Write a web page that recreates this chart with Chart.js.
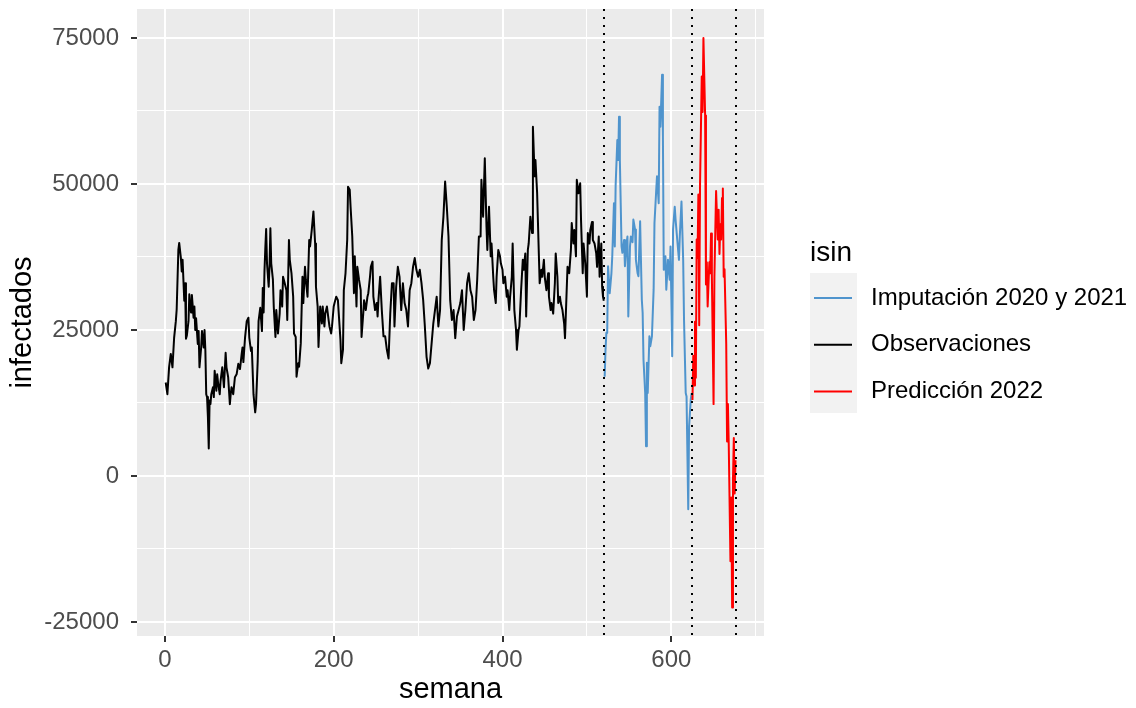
<!DOCTYPE html>
<html>
<head>
<meta charset="utf-8">
<script src="https://cdn.jsdelivr.net/npm/chart.js@4.4.1/dist/chart.umd.min.js"></script>
<style>
  html, body { margin: 0; padding: 0; background: #ffffff; }
  #wrap { width: 1136px; height: 708px; }
</style>
</head>
<body>
<div id="wrap"><canvas id="chart" width="1136" height="708"></canvas></div>
<script>
// semanas 1-520: observaciones
const obsWeeks = [
  1, 2, 3, 5, 7, 9, 11, 13, 14, 16, 17, 19, 20, 21, 23, 24, 25, 26, 28, 29,
  31, 32, 34, 35, 36, 37, 39, 40, 41, 43, 44, 46, 47, 48, 49, 50, 51, 52, 53, 54,
  55, 57, 58, 59, 61, 62, 63, 65, 66, 68, 70, 72, 73, 75, 77, 78, 79, 81, 83, 85,
  87, 89, 91, 92, 93, 95, 97, 99, 100, 102, 103, 105, 107, 108, 110, 111, 113, 115, 116, 117,
  118, 119, 120, 121, 122, 123, 124, 125, 126, 128, 129, 131, 132, 134, 136, 137, 139, 140, 142, 144,
  145, 147, 148, 150, 152, 153, 155, 156, 158, 159, 161, 163, 164, 166, 167, 169, 171, 172, 174, 176,
  178, 179, 181, 182, 184, 186, 187, 189, 190, 192, 194, 195, 197, 198, 200, 201, 203, 205, 206, 208,
  209, 211, 212, 214, 216, 217, 219, 220, 222, 224, 225, 227, 228, 230, 232, 233, 235, 236, 238, 240,
  241, 243, 244, 246, 247, 249, 251, 252, 253, 255, 257, 259, 261, 263, 265, 267, 269, 271, 272, 274,
  276, 278, 280, 282, 284, 286, 288, 290, 292, 294, 296, 298, 300, 302, 304, 306, 308, 310, 312, 314,
  316, 318, 320, 322, 324, 326, 328, 330, 332, 334, 336, 338, 340, 342, 344, 346, 348, 350, 352, 354,
  356, 358, 360, 362, 364, 366, 368, 370, 372, 374, 375, 377, 379, 381, 382, 384, 386, 387, 389, 390,
  392, 393, 395, 397, 398, 400, 401, 403, 405, 406, 408, 409, 411, 412, 414, 416, 417, 419, 420, 422,
  424, 425, 427, 428, 430, 431, 433, 435, 436, 438, 439, 441, 443, 444, 446, 447, 449, 450, 452, 454,
  455, 457, 458, 460, 462, 463, 465, 466, 468, 469, 471, 473, 474, 476, 477, 479, 481, 482, 484, 485,
  487, 488, 490, 492, 493, 495, 496, 498, 500, 501, 503, 504, 506, 507, 509, 511, 512, 514, 515, 517,
  518, 519, 520
];
const obsValues = [
  16000, 15000, 14000, 18600, 20900, 18600, 23700, 26500, 28500, 38700, 39900, 37300, 35000, 37000, 30000, 33000, 23500, 24000, 26500, 31100,
  28000, 31000, 27100, 29000, 25000, 27000, 22600, 24800, 18600, 22000, 24800, 22000, 25000, 21400, 14000, 13500, 10100, 4700, 12900, 12300,
  14000, 15200, 13500, 18000, 14600, 17400, 16000, 14000, 16300, 18600, 15200, 21100, 18600, 16900, 12300, 14000, 15200, 14000, 16900, 17400,
  19200, 18300, 20900, 22000, 19500, 23700, 26500, 27100, 23700, 21400, 22000, 14000, 10900, 12300, 19700, 26500, 28800, 24800, 32200, 28000,
  35000, 39000, 42300, 36400, 36400, 32400, 36000, 42400, 36400, 33600, 29000, 23800, 28400, 24400, 27800, 31800, 29000, 34100, 33000, 31800,
  26700, 40400, 37000, 34700, 30700, 24400, 23800, 17000, 19300, 18700, 22700, 34100, 29600, 35800, 33600, 30700, 40400, 39300, 42100, 45300,
  39800, 32400, 29000, 22100, 29000, 26100, 29000, 25600, 27800, 29000, 26700, 25600, 24400, 25600, 29000, 29600, 30700, 30100, 27800, 23300,
  19300, 21600, 31800, 34700, 40400, 49500, 49000, 46100, 41000, 31300, 37600, 29000, 35800, 33600, 31800, 23800, 27800, 30100, 28400, 30700,
  31300, 34100, 35800, 36700, 30700, 28400, 29600, 27300, 30100, 34100, 28400, 23900, 23900, 21600, 20100, 27800, 33000, 33000, 25600, 32400,
  35800, 34100, 28400, 33000, 29600, 28400, 25600, 31800, 33000, 35800, 37300, 35300, 34100, 35300, 33000, 30100, 25600, 20400, 18400, 19300,
  22700, 26100, 28400, 30700, 25600, 28400, 40400, 44400, 50400, 46100, 41000, 30100, 26700, 28400, 23600, 27300, 28400, 29600, 31800, 25000,
  28400, 33000, 34700, 31800, 30700, 26700, 28400, 33600, 41000, 41000, 50700, 44400, 54400, 42700, 38700, 46100, 37600, 39800, 34100, 31800,
  29600, 34100, 38700, 37600, 36400, 35300, 33000, 34100, 30700, 31800, 28400, 30700, 34100, 39800, 28400, 25000, 21600, 25000, 25600, 31800,
  37000, 35300, 38100, 27300, 38700, 39800, 44400, 41600, 59800, 51300, 54100, 48400, 38100, 33000, 35300, 34100, 37000, 34100, 31800, 34700,
  30700, 28400, 29600, 27800, 33000, 38100, 34100, 29600, 30700, 29600, 28400, 26100, 23600, 31800, 35800, 34700, 38700, 43300, 39800, 42100,
  37600, 50700, 48400, 50100, 43800, 34700, 39800, 36400, 30700, 41600, 39800, 42100, 43500, 40400, 39800, 38100, 35800, 41000, 34100, 39800,
  32400, 30700, 30000
];

// semanas 521-624: imputación 2020 y 2021
const impWeeks = [
  521, 522, 523, 524, 525, 527, 529, 530, 532, 533, 534, 536, 537, 538, 539, 541, 542, 544, 545, 547,
  548, 549, 551, 552, 554, 555, 557, 558, 560, 561, 563, 565, 566, 567, 569, 570, 571, 572, 574, 575,
  577, 579, 580, 582, 583, 585, 586, 587, 589, 590, 591, 593, 594, 596, 598, 599, 601, 602, 604, 605,
  607, 609, 610, 612, 614, 615, 617, 618, 620, 621, 623, 624
];
const impValues = [
  17000, 21600, 24500, 24500, 35900, 31300, 34700, 37600, 46700, 39300, 49800, 57500, 54100, 61500, 54100, 39300, 38200, 40400, 35900, 39900,
  41000, 27300, 39300, 41000, 40000, 43900, 42200, 37000, 34700, 34200, 43600, 30200, 27900, 19900, 14200, 5100, 19400, 14200, 23900, 22200,
  23900, 31900, 43300, 48700, 51300, 46700, 63200, 59800, 68700, 58100, 35300, 37600, 31900, 37000, 33600, 39300, 20500, 42200, 46100, 43900,
  40400, 37000, 41000, 47000, 37000, 26800, 14200, 13600, -5700, 8500, 13100, 14200
];

// semanas 625-676: predicción 2022
const predWeeks = [
  625, 626, 627, 628, 629, 630, 631, 632, 633, 634, 636, 637, 638, 640, 641, 642, 643, 645, 646, 647,
  648, 650, 651, 652, 653, 655, 656, 657, 658, 659, 660, 661, 662, 663, 665, 666, 667, 668, 670, 671,
  672, 673, 674, 675, 676
];
const predValues = [
  13000, 20600, 15500, 26400, 16800, 40500, 37300, 48200, 25800, 50100, 68400, 62300, 75000, 61700, 32800, 36600, 29000, 36600, 34700, 41500,
  34100, 12300, 34100, 41500, 48800, 40500, 45600, 38000, 43100, 40500, 47600, 49200, 34100, 35400, 22600, 5900, 12300, 5300, -14600, -3700,
  -22500, -500, 6500, -3000, 2700
];

const seriesNames = ["Imputación 2020 y 2021", "Observaciones", "Predicción 2022"];
const seriesColors = ["#4F94CD", "#000000", "#FF0000"];

const xMajor = [0, 200, 400, 600];
const xMinor = [100, 300, 500, 700];
const yMajor = [-25000, 0, 25000, 50000, 75000];
const yMinor = [-12500, 12500, 37500, 62500];
const periodBreaks = [520, 624, 676];

const FONT = "'Liberation Sans', Arial, sans-serif";

function toPoints(xs, ys) {
  return xs.map((x, i) => ({ x: x, y: ys[i] }));
}

const panelBg = {
  id: "panelBg",
  beforeDraw(chart) {
    const { ctx, chartArea: a } = chart;
    ctx.save();
    ctx.fillStyle = "#ffffff";
    ctx.fillRect(0, 0, chart.width, chart.height);
    ctx.fillStyle = "#EBEBEB";
    ctx.fillRect(a.left, a.top, a.right - a.left, a.bottom - a.top);
    ctx.restore();
  }
};

const breakLines = {
  id: "breakLines",
  afterDatasetsDraw(chart) {
    const { ctx, chartArea: a, scales } = chart;
    ctx.save();
    ctx.strokeStyle = "#000000";
    ctx.lineWidth = 2;
    ctx.setLineDash([2, 6]);
    periodBreaks.forEach(w => {
      const px = Math.round(scales.x.getPixelForValue(w));
      ctx.beginPath();
      ctx.moveTo(px, a.top);
      ctx.lineTo(px, a.bottom);
      ctx.stroke();
    });
    ctx.restore();
  }
};

// leyenda tipo ggplot a la derecha
const ggLegend = {
  id: "ggLegend",
  afterDraw(chart) {
    const ctx = chart.ctx;
    const ds = chart.data.datasets;
    ctx.save();
    ctx.fillStyle = "#000000";
    ctx.font = "28px " + FONT;
    ctx.textBaseline = "middle";
    ctx.textAlign = "left";
    ctx.fillText("isin", 810, 253);
    ctx.fillStyle = "#F2F2F2";
    ctx.fillRect(810, 273, 47, 140);
    ctx.font = "24px " + FONT;
    ds.forEach((d, i) => {
      const y = 298 + i * 46.7;
      ctx.strokeStyle = d.borderColor;
      ctx.lineWidth = 2;
      ctx.beginPath();
      ctx.moveTo(814, y);
      ctx.lineTo(852, y);
      ctx.stroke();
      ctx.fillStyle = "#000000";
      ctx.fillText(d.label, 871, y);
    });
    ctx.restore();
  }
};

const ctx = document.getElementById("chart").getContext("2d");

new Chart(ctx, {
  type: "line",
  data: {
    datasets: [
      { label: seriesNames[0], data: toPoints(impWeeks, impValues), borderColor: seriesColors[0], order: 3 },
      { label: seriesNames[1], data: toPoints(obsWeeks, obsValues), borderColor: seriesColors[1], order: 2 },
      { label: seriesNames[2], data: toPoints(predWeeks, predValues), borderColor: seriesColors[2], order: 1 }
    ]
  },
  options: {
    responsive: false,
    animation: false,
    devicePixelRatio: 1,
    layout: { padding: { left: 0, top: 9, right: 372, bottom: 0 } },
    elements: {
      line: { borderWidth: 2, tension: 0, borderJoinStyle: "round", fill: false },
      point: { radius: 0, hoverRadius: 0 }
    },
    plugins: {
      legend: { display: false },
      tooltip: { enabled: false }
    },
    scales: {
      x: {
        type: "linear",
        min: -33,
        max: 709.75,
        afterBuildTicks: s => {
          s.ticks = xMajor.concat(xMinor).sort((a, b) => a - b).map(v => ({ value: v }));
        },
        afterFit: s => {
          s.height = 72;
          s.paddingLeft = 0;
          s.paddingRight = 0;
        },
        border: { display: false },
        grid: {
          color: "#FFFFFF",
          lineWidth: c => (xMajor.includes(c.tick.value) ? 2 : 1),
          tickLength: 6,
          tickWidth: 2,
          tickColor: c => (xMajor.includes(c.tick.value) ? "#333333" : "rgba(0,0,0,0)")
        },
        ticks: {
          autoSkip: false,
          maxRotation: 0,
          padding: 4,
          color: "#4D4D4D",
          font: { size: 24, family: FONT },
          callback: v => (xMajor.includes(v) ? String(v) : "")
        },
        title: {
          display: true,
          text: "semana",
          color: "#000000",
          font: { size: 29, family: FONT },
          padding: { top: 0, bottom: 1 }
        }
      },
      y: {
        type: "linear",
        min: -27400,
        max: 79950,
        afterBuildTicks: s => {
          s.ticks = yMajor.concat(yMinor).sort((a, b) => a - b).map(v => ({ value: v }));
        },
        afterFit: s => {
          s.width = 137;
          s.paddingTop = 0;
          s.paddingBottom = 0;
        },
        border: { display: false },
        grid: {
          color: "#FFFFFF",
          lineWidth: c => (yMajor.includes(c.tick.value) ? 2 : 1),
          tickLength: 6,
          tickWidth: 2,
          tickColor: c => (yMajor.includes(c.tick.value) ? "#333333" : "rgba(0,0,0,0)")
        },
        ticks: {
          autoSkip: false,
          padding: 12,
          color: "#4D4D4D",
          font: { size: 24, family: FONT },
          callback: v => (yMajor.includes(v) ? String(v) : "")
        },
        title: {
          display: true,
          text: "infectados",
          color: "#000000",
          font: { size: 29, family: FONT },
          padding: { top: 6, bottom: 0 }
        }
      }
    }
  },
  plugins: [panelBg, breakLines, ggLegend]
});
</script>
</body>
</html>
